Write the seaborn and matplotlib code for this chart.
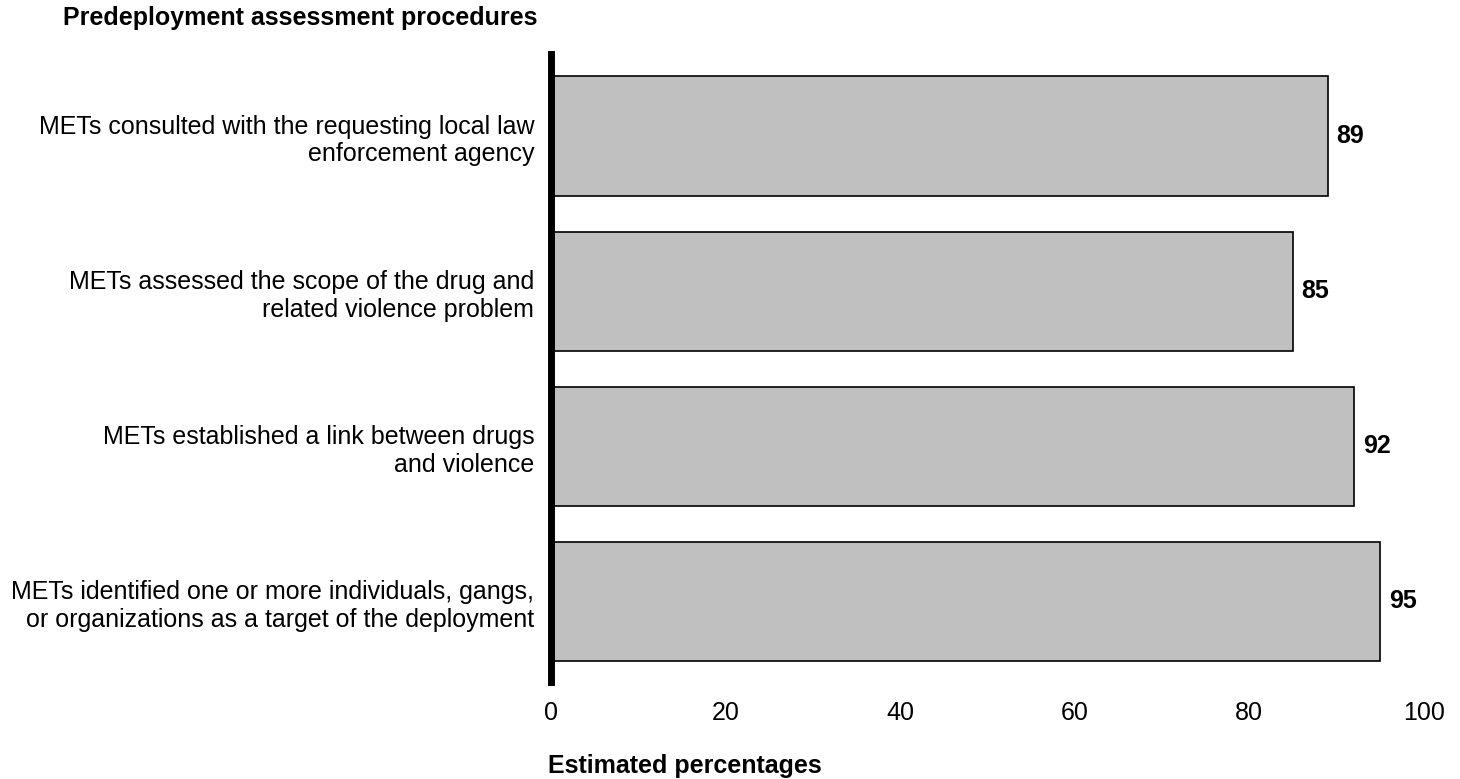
import pandas as pd
import matplotlib
matplotlib.use("Agg")
import matplotlib.pyplot as plt
import seaborn as sns

# Chart data
procedures = [
    "METs consulted with the requesting local law\nenforcement agency",
    "METs assessed the scope of the drug and\nrelated violence problem",
    "METs established a link between drugs\nand violence",
    "METs identified one or more individuals, gangs,\nor organizations as a target of the deployment",
]
percentages = [89, 85, 92, 95]
x_ticks = [0, 20, 40, 60, 80, 100]

df = pd.DataFrame({"procedure": procedures, "pct": percentages})

sns.set_style("white")
plt.rcParams["font.family"] = ["Liberation Sans", "DejaVu Sans"]
plt.rcParams["text.color"] = "black"
plt.rcParams["xtick.color"] = "black"
plt.rcParams["ytick.color"] = "black"

fig = plt.figure(figsize=(14.6, 7.79), dpi=100)
ax = fig.add_axes([0.3774, 0.1245, 0.9753 - 0.3774, 0.9307 - 0.1245])

sns.barplot(
    data=df, x="pct", y="procedure", orient="h",
    color="#c0c0c0", edgecolor="black", linewidth=1.2,
    width=0.77, saturation=1, ax=ax
)

# value labels
for i, v in enumerate(percentages):
    ax.text(v + 1.0, i, str(v), va="center", ha="left",
            fontsize=18, fontweight="bold", color="black")

ax.set_xlim(0, 100)
ax.set_ylim(3.52, -0.53)
ax.set_xticks(x_ticks)
ax.set_xticklabels([str(t) for t in x_ticks], fontsize=18)
ax.tick_params(axis="x", length=0, pad=14)
ax.tick_params(axis="y", length=0, pad=12, labelsize=18)
for lbl in ax.get_yticklabels():
    lbl.set_horizontalalignment("right")
    lbl.set_multialignment("right")

ax.set_xlabel("")
ax.set_ylabel("")
for side in ["top", "right", "bottom"]:
    ax.spines[side].set_visible(False)
ax.spines["left"].set_linewidth(5)
ax.spines["left"].set_color("black")

fig.text(63 / 1460, 1 - 18.5 / 779, "Predeployment assessment procedures",
         fontsize=18, fontweight="bold", ha="left", va="center")
fig.text(548 / 1460, 1 - 766 / 779, "Estimated percentages",
         fontsize=18, fontweight="bold", ha="left", va="center")

plt.savefig("out.png", dpi=100)
